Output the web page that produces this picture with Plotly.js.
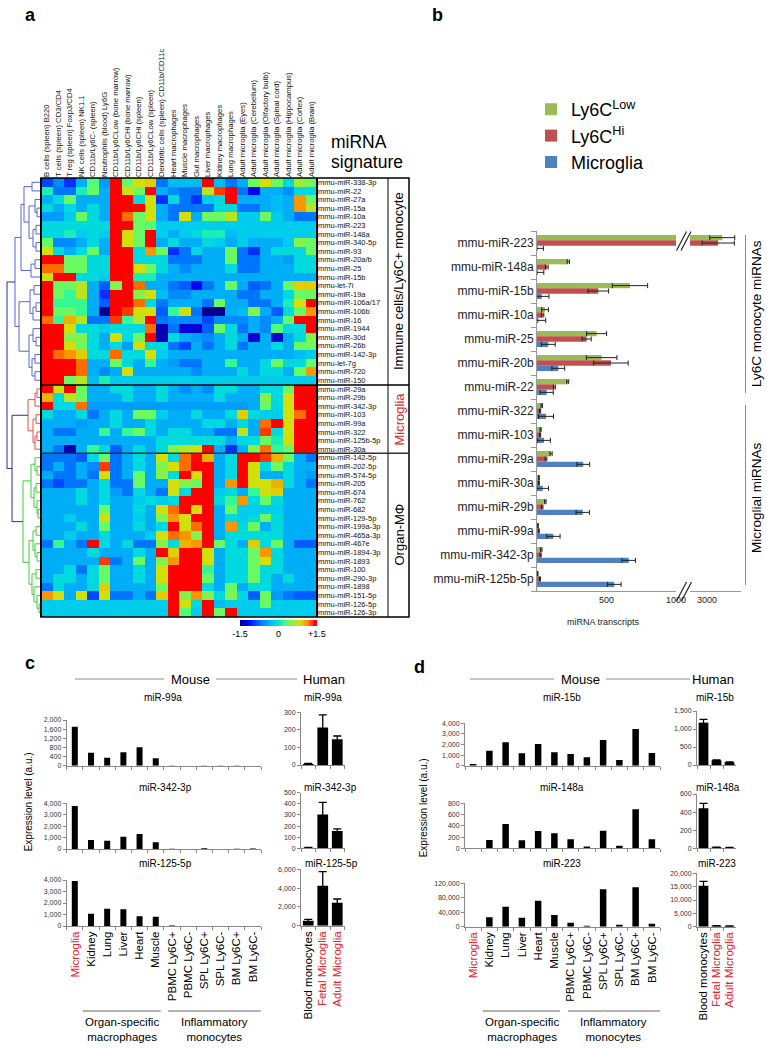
<!DOCTYPE html>
<html><head><meta charset="utf-8">
<script src="https://cdn.plot.ly/plotly-3.0.1.min.js"></script>
<style>html,body{margin:0;padding:0;background:#fff}#chart{width:767px;height:1049px}</style>
</head><body><div id="chart"></div>
<script>
// ---------------- DATA ----------------
const heatCols = ['B cells (spleen) B220','T cells (spleen) CD3/CD4','T reg (spleen) Foxp3/CD4','NK cells (spleen) NK1.1','CD11b/Ly6C- (spleen)','Neutrophils (blood) Ly6G','CD11b/Ly6CLow (bone marrow)','CD11b/Ly6CHi (bone marrow)','CD11b/Ly6CHi (spleen)','CD11b/Ly6CLow (spleen)','Dendritic cells (spleen) CD11b/CD11c','Heart macrophages','Muscle macrophages','Gut macrophages','Liver macrophages','Kidney macrophages','Lung macrophages','Adult microglia (Eyes)','Adult microglia (Cerebellum)','Adult microglia (Olfactory bulb)','Adult microglia (Spinal cord)','Adult microglia (Hippocampus)','Adult microglia (Cortex)','Adult microglia (Brain)'];

const rowsImmune = ['mmu-miR-338-3p','mmu-miR-22','mmu-miR-27a','mmu-miR-15a','mmu-miR-10a','mmu-miR-223','mmu-miR-148a','mmu-miR-340-5p','mmu-miR-93','mmu-miR-20a/b','mmu-miR-25','mmu-miR-15b','mmu-let-7i','mmu-miR-19a','mmu-miR-106a/17','mmu-miR-106b','mmu-miR-16','mmu-miR-1944','mmu-miR-30d','mmu-miR-26b','mmu-miR-142-3p','mmu-let-7g','mmu-miR-720','mmu-miR-150'];
const rowsMicroglia = ['mmu-miR-29a','mmu-miR-29b','mmu-miR-342-3p','mmu-miR-103','mmu-miR-99a','mmu-miR-322','mmu-miR-125b-5p','mmu-miR-30a'];
const rowsOrgan = ['mmu-miR-142-5p','mmu-miR-202-5p','mmu-miR-574-5p','mmu-miR-205','mmu-miR-674','mmu-miR-762','mmu-miR-682','mmu-miR-129-5p','mmu-miR-199a-3p','mmu-miR-465a-3p','mmu-miR-467e','mmu-miR-1894-3p','mmu-miR-1893','mmu-miR-100','mmu-miR-290-3p','mmu-miR-1898','mmu-miR-151-5p','mmu-miR-126-5p','mmu-miR-126-3p'];

const heatImmune = [
[-0.9,-0.6,-1.0,-0.4,0.3,-0.5,1.5,0.4,0.8,0.9,-0.7,-0.3,-0.3,-0.3,1.5,-0.3,-0.7,-0.4,0.4,0.8,0.4,-0.1,0.6,0.4],
[0.1,-0.7,-0.7,0.1,0.4,-0.4,1.5,0.8,0.4,1.5,-0.4,-0.6,-0.7,-0.7,0.7,1.3,1.5,-0.7,-1.2,-0.4,-0.4,-0.6,-0.1,-0.1],
[-0.4,-0.1,0.4,-0.4,-0.4,-0.4,1.5,1.5,-0.1,0.8,-1.0,-0.1,-0.7,-1.0,-0.2,-0.1,1.5,-0.4,-0.4,-0.4,-0.3,-0.4,1.1,0.4],
[-0.1,-0.4,-0.1,-0.4,-0.1,-0.4,1.5,1.5,1.4,0.8,-0.4,-0.7,-0.7,-0.7,-0.7,-0.1,-0.1,-0.7,-0.7,-0.4,-0.3,-0.4,1.1,0.7],
[-0.5,-0.5,-0.2,0.4,-0.1,-0.4,1.5,1.2,0.4,0.8,-0.4,-0.7,0.8,-0.4,0.4,0.4,0.7,-0.2,-0.2,0.4,-0.2,-0.4,-0.7,-0.7],
[-0.1,-0.1,-0.1,-0.1,-0.1,-0.1,1.5,1.5,0.4,0.3,-0.2,-0.2,-0.2,-0.2,-0.2,-0.2,-0.2,-0.2,-0.2,-0.2,-0.2,-0.2,-0.2,-0.2],
[-0.1,-0.1,0.1,-0.2,-0.1,-0.2,1.5,0.8,0.4,1.5,-0.2,-0.4,-0.2,-0.1,0.1,0.1,-0.3,-0.2,-0.2,-0.2,-0.2,-0.2,-0.2,-0.2],
[0.4,-0.6,-0.6,-0.4,-0.1,-0.4,1.5,0.8,0.4,1.5,-0.4,-0.1,-0.4,-0.4,-0.1,-0.2,-0.4,-0.2,-0.4,-0.4,-0.4,-0.2,0.5,0.4],
[0.8,-0.1,-0.4,-0.1,0.4,-0.4,1.5,1.5,-0.1,1.1,0.4,-1.0,-0.7,-0.1,-0.4,-0.4,0.4,-0.7,-1.0,-0.4,-0.1,-0.1,-0.1,0.4],
[1.5,1.5,0.4,0.4,-0.1,-0.1,1.5,1.5,-0.1,-0.1,-0.1,-0.7,-0.7,-0.7,-0.4,-0.4,0.4,-0.7,-0.7,-0.4,-0.4,-0.5,-0.1,-0.1],
[1.2,1.2,0.4,0.4,-0.1,-0.1,1.5,1.5,0.8,0.4,-0.1,-0.4,-0.6,-0.4,-0.4,-0.4,-0.1,-0.7,-0.7,-0.4,-0.4,-0.4,-0.1,-0.1],
[0.8,1.5,1.5,-0.1,-0.1,-0.2,1.5,1.4,0.1,0.1,-0.4,-0.4,-0.4,-0.4,-0.4,-0.4,-0.4,-0.4,-0.4,-0.4,-0.4,-0.4,-0.4,-0.4],
[1.5,0.4,0.4,0.7,-0.4,-0.8,0.5,1.5,1.2,-0.4,-0.4,-0.7,-0.8,-1.2,-0.7,-0.4,0.4,-0.4,-0.8,-0.7,-0.4,0.4,0.9,0.9],
[1.5,0.4,0.2,0.7,-0.4,-1.0,1.5,1.5,0.5,0.8,-0.3,-0.6,-0.6,-0.4,-0.4,-0.4,-0.4,-0.7,-0.7,-0.4,-0.4,-0.1,0.4,0.4],
[1.4,0.2,0.2,0.2,-0.4,-0.8,1.5,1.5,1.2,-0.1,-0.7,-0.4,-0.4,-0.4,-0.7,0.4,-0.4,-0.4,-0.7,-0.7,-0.4,0.1,0.8,1.5],
[1.5,0.4,0.4,0.2,-0.4,-1.5,1.5,1.3,0.8,0.8,-0.8,0.2,0.8,-0.7,-1.5,-1.5,-0.4,-0.3,0.5,-0.4,-0.8,-0.1,0.4,1.1],
[1.2,0.2,1.0,0.7,-0.7,-0.7,1.3,0.2,0.7,1.5,-0.7,-0.6,-0.6,-0.6,-0.9,-0.6,-0.6,-0.6,-0.4,-0.6,-0.4,0.4,1.5,1.5],
[1.5,1.5,0.8,-0.1,-0.1,-0.2,-0.1,-0.1,-0.1,1.2,-1.4,-0.7,-1.3,-1.3,-0.8,0.4,-0.1,-0.7,-0.4,-0.6,0.3,-0.1,-0.1,1.5],
[1.5,1.5,0.5,0.5,-0.1,-0.4,0.8,-0.1,0.4,1.5,-1.4,-0.1,-0.4,-0.5,-0.6,-0.4,-0.1,-0.4,-1.3,-0.4,-1.3,-0.4,-0.1,0.5],
[1.5,1.5,0.8,0.4,-0.1,-0.4,-0.1,-0.5,0.8,-0.1,-0.1,-0.7,-0.9,-0.4,-0.7,-0.4,-0.1,-0.7,-0.4,-0.4,-0.1,-0.4,0.4,0.4],
[1.5,1.2,1.1,0.9,-0.1,-0.1,1.2,-0.1,-0.1,0.8,-0.2,-0.4,-0.4,-0.4,-0.4,-0.4,-0.4,-0.4,-0.4,-0.4,-0.4,-0.4,-0.3,-0.2],
[1.5,1.5,1.5,1.2,-0.4,-0.4,0.4,-0.1,-0.4,0.2,-0.4,-0.5,-0.7,-0.7,-0.4,-0.4,0.2,-0.4,-0.4,-0.1,0.4,-0.1,-0.1,0.4],
[1.5,1.5,1.4,1.2,-0.4,-0.6,-0.4,0.8,-0.4,-0.4,-0.4,-0.4,-0.4,-0.6,-0.4,-0.4,-0.4,-0.1,-0.4,-0.1,-0.1,-0.4,0.4,1.1],
[1.5,1.5,0.4,0.7,-0.3,0.1,-0.2,-0.2,-0.2,-0.2,-0.2,-0.2,-0.2,-0.2,-0.2,-0.2,-0.2,-0.2,-0.2,-0.2,-0.2,-0.2,-0.2,-0.2]
];
const heatMicroglia = [
[1.5,0.8,1.5,0.4,-0.4,-0.4,-0.1,-0.1,-0.4,-0.4,-0.1,-0.4,-0.6,-0.4,-0.6,-0.1,-0.1,-0.4,-0.4,-0.1,-0.1,0.4,1.5,1.5],
[1.0,-0.1,0.7,0.4,-0.4,-0.4,-0.4,-0.1,-0.4,-0.4,-0.1,-0.4,-0.4,-0.4,-0.4,-0.1,-0.4,-0.4,-0.4,0.5,-0.1,0.8,1.5,1.5],
[1.5,-0.1,-0.1,1.2,-0.5,-0.5,-0.5,-0.5,-0.5,-0.5,-0.5,-0.5,-0.5,-0.5,-0.5,-0.5,-0.5,-0.5,-0.4,0.4,-0.1,0.8,1.5,1.5],
[-0.1,-0.4,-0.4,-0.1,-0.7,-0.4,-0.1,-0.4,0.4,0.4,-0.2,-0.4,-0.4,-0.1,-0.4,-0.4,-0.1,0.9,-0.1,-0.2,-0.2,0.8,1.2,1.5],
[-0.4,-0.4,-0.4,-0.5,-0.4,-0.4,-0.1,-0.4,-0.4,-0.1,-0.4,-0.4,-0.4,-0.4,-0.1,-0.1,-0.4,-0.1,-0.4,1.2,1.5,0.8,1.5,1.5],
[-0.4,-0.7,-0.7,-0.4,-0.4,0.2,-0.4,0.2,0.4,-0.1,-0.4,-0.1,-0.1,-0.4,-0.4,-0.7,-0.7,0.7,-0.4,1.3,-0.1,0.8,1.5,1.5],
[-0.4,-0.4,-0.4,-0.4,-0.4,-0.4,-0.4,-0.4,-0.4,-0.4,-0.1,-0.1,-0.1,-0.1,-0.1,-0.1,-0.4,-0.1,-0.1,0.4,0.1,0.8,1.5,1.5],
[-0.4,-0.7,-1.4,-0.4,0.2,-0.1,-0.8,-0.4,-0.1,-0.4,-0.1,0.5,0.7,0.8,1.5,-0.4,-1.0,-0.4,0.5,1.2,0.2,0.4,1.5,1.5]
];
const heatOrgan = [
[-0.7,-0.7,-0.7,-0.8,-0.1,0.4,-0.7,-0.4,-0.1,-0.4,0.8,-0.1,1.2,1.4,1.0,-0.4,-0.1,1.5,1.5,1.3,1.0,0.4,-0.4,-0.7],
[-0.7,-0.4,-0.7,-0.4,-0.6,1.3,-0.7,-0.4,-0.1,-0.4,0.5,0.8,1.2,1.5,1.5,-0.4,-0.1,1.5,0.8,-0.1,0.4,-0.1,-0.4,-0.4],
[-0.4,-0.7,-0.7,-0.4,-0.7,0.8,-0.7,-0.4,0.4,-0.4,0.5,-0.1,1.5,0.8,1.5,-0.4,-0.1,1.5,0.8,-0.4,-0.4,-0.1,-0.4,-0.5],
[-0.7,-0.9,-0.7,-0.7,-0.4,-0.1,-0.7,-0.7,0.4,-0.4,-0.4,0.8,0.5,0.4,1.5,-0.4,1.1,1.5,0.8,0.8,1.0,-0.1,-0.4,-0.7],
[-0.4,-0.4,-0.4,-0.1,-0.4,-0.1,-0.5,-0.7,-0.1,-0.4,-0.7,0.8,-0.1,1.5,1.5,-0.2,-0.1,-0.4,0.2,0.8,0.9,-0.4,-0.4,-0.4],
[-0.4,-0.4,-0.4,-0.1,-0.4,-0.1,-0.4,-0.4,-0.2,-0.1,-0.2,-0.1,1.5,1.5,1.5,-0.1,0.2,1.1,-0.1,0.4,-0.1,-0.4,-0.4,-0.4],
[-0.4,-0.4,-0.4,-0.4,-0.4,0.4,-0.4,-0.4,-0.1,-0.4,0.8,1.2,1.5,0.8,1.5,-0.4,0.4,-0.2,-0.2,-0.2,-0.2,-0.4,-0.4,-0.4],
[-0.4,-0.4,-0.2,-0.4,-0.4,0.8,-0.4,-0.4,-0.2,-0.4,0.5,1.1,0.8,1.5,1.5,-0.4,-0.1,-0.2,-0.1,0.4,-0.1,-0.4,-0.4,-0.4],
[-0.4,-0.4,-0.4,-0.1,-0.4,0.4,-0.4,-0.4,-0.1,-0.4,-0.1,1.5,0.8,1.2,1.5,-0.4,1.1,-0.1,0.4,-0.4,-0.1,-0.4,-0.4,-0.4],
[-0.4,-0.4,-0.2,-0.4,-0.4,-0.1,-0.4,-0.4,-0.4,-0.2,0.8,1.2,1.1,0.5,1.5,-0.4,-0.1,-0.1,-0.1,-0.1,-0.1,-0.4,-0.4,-0.4],
[-0.7,0.2,-0.4,-0.7,1.5,-0.1,-0.4,-0.1,-0.7,-0.7,0.5,-0.1,1.0,1.1,1.5,0.4,-0.1,-0.4,0.9,-0.1,0.4,-0.4,-0.8,-0.8],
[-0.4,-0.4,-0.4,-0.4,-0.1,-0.4,-0.4,-0.4,-0.1,-0.4,1.5,0.9,1.5,1.5,0.8,-0.4,-0.1,-0.1,0.4,1.1,-0.1,-0.4,-0.4,-0.4],
[-0.4,-0.4,-0.4,-0.4,-0.4,1.3,-0.7,-0.4,0.4,-0.4,0.5,1.1,1.5,1.5,0.8,-0.4,-0.1,-0.1,0.4,0.8,-0.1,-0.4,-0.4,-0.4],
[-0.4,-0.4,-0.1,-0.7,-0.1,0.4,-0.4,-0.4,-0.1,-0.4,0.8,1.5,1.5,1.5,0.2,-0.4,-0.1,-0.1,0.4,-0.1,-0.1,-0.4,-0.4,-0.4],
[-0.4,-0.1,-0.1,-0.4,-0.1,0.4,-0.4,-0.4,-0.1,-0.4,0.8,1.5,1.5,1.5,0.4,-0.4,-0.1,-0.1,0.4,-0.1,-0.4,-0.1,-0.4,-0.4],
[-0.7,-0.1,-0.4,-0.4,-0.1,0.9,-0.4,-0.4,-0.4,-0.4,0.4,1.5,1.5,1.5,-0.1,-0.4,0.4,-0.4,-0.1,-0.1,-0.4,-0.4,-0.4,-0.4],
[1.1,0.8,-0.4,0.8,-0.9,0.8,-0.7,-0.7,-0.4,-0.7,0.9,1.5,0.5,1.1,0.5,-0.1,0.5,-0.1,-0.8,0.4,-0.5,-0.7,-0.8,-0.8],
[-0.2,-0.2,-0.2,-0.2,-0.2,-0.2,-0.2,-0.2,-0.2,-0.2,-0.2,1.5,0.8,-0.1,1.5,-0.3,-0.2,-0.2,-0.2,0.4,-0.2,-0.2,-0.2,-0.2],
[-0.2,-0.2,-0.2,-0.2,-0.2,-0.2,-0.2,-0.2,-0.2,-0.2,-0.2,1.5,0.3,-0.2,1.5,0.4,1.5,-0.2,-0.2,-0.2,-0.2,-0.2,-0.2,-0.2]
];
const groupLabels = ['Immune cells/Ly6C+ monocyte','Microglia','Organ-M\u03A6'];

// dendrogram: [height, left, right]; leaves = row index
const dendroImmune = [26,
  [20, [17,[9,0,1],[12,[6,2,[4,3,4]],[8,[5,5,6],[5,7,8]]]], [10,[6,9,10],11]],
  [22, [11,[7,12,13],[8,[5,14,15],16]], [12,[8,17,[5,18,19]],[9,[6,20,21],[6,22,23]]]]];
const dendroMicroglia = [13, [6,[4,24,25],26], [8,[5,27,28],[6,[4,29,30],31]]];
const dendroOrgan = [18,
  [10,[6,32,[4,33,34]],[7,[5,35,36],[4,37,[3,38,39]]]],
  [12,[8,[5,40,41],[6,42,[4,43,44]]],[9,[5,45,46],[7,47,[4,48,[2,49,50]]]]]];
const dendroTop = [34, 'immune', [29, 'microglia', 'organ']];

// panel b
const bCats = ['mmu-miR-223','mmu-miR-148a','mmu-miR-15b','mmu-miR-10a','mmu-miR-25','mmu-miR-20b','mmu-miR-22','mmu-miR-322','mmu-miR-103','mmu-miR-29a','mmu-miR-30a','mmu-miR-29b','mmu-miR-99a','mmu-miR-342-3p','mmu-miR-125b-5p'];
const ly6cLow    = [3450,225,669,58,429,465,221,34,26,101,14,60,7,31,5];
const ly6cLowErr = [367,8,127,24,72,110,7,5,4,8,3,5,2,5,2];
const ly6cHi     = [3330,70,441,41,357,532,125,22,22,65,14,38,14,26,22];
const ly6cHiErr  = [474,10,74,8,33,124,7,4,4,6,3,5,2,4,3];
const microgliaB    = [5,6,34,10,81,153,70,65,50,333,41,329,118,660,556];
const microgliaBErr = [41,43,52,53,50,46,47,54,46,46,42,48,48,48,49];
const bSeriesNames = ['Ly6C<sup>Low</sup>','Ly6C<sup>Hi</sup>','Microglia'];

// panels c, d
const mouseCats = ['Microglia','Kidney','Lung','Liver','Heart','Muscle','PBMC Ly6C+','PBMC Ly6C-','SPL Ly6C+','SPL Ly6C-','BM Ly6C+','BM Ly6C-'];
const humanCats = ['Blood monocytes','Fetal Microglia','Adult Microglia'];
const redCats = ['Microglia','Fetal Microglia','Adult Microglia'];

const miR99aMouse  = [1708,570,350,584,803,321,10,3,8,5,8,3];
const miR342Mouse  = [3766,788,730,1080,1314,584,20,10,60,10,30,50];
const miR125Mouse  = [3913,1072,1507,1449,840,811,40,10,10,10,10,10];
const miR99aHuman  = [6,213,146];     const miR99aHumanErr  = [3,72,19];
const miR342Human  = [6,305,156];     const miR342HumanErr  = [2,108,18];
const miR125Human  = [533,4260,2450]; const miR125HumanErr  = [140,1490,390];

const miR15bMouse  = [157,1417,2205,1165,2047,1260,1102,787,2425,535,3465,1197];
const miR148aMouse = [2,148,433,142,308,267,160,30,314,47,693,160];
const miR223Mouse  = [0,25800,55400,24900,72000,32300,11000,2800,103400,5500,109000,8300];
const miR15bHuman  = [1176,130,74];   const miR15bHumanErr  = [92,10,10];
const miR148aHuman = [442,11,7];      const miR148aHumanErr = [55,2,2];
const miR223Human  = [15375,375,250]; const miR223HumanErr  = [1625,60,50];

// ---------------- LAYOUT HELPERS ----------------
const W = 767, H = 1049;
const F = 'Arial, "Liberation Sans", Helvetica, sans-serif';
const RED = '#e4222a';
const px = v => v / W;
const py = v => 1 - v / H;
const xd = (a, b) => [px(a), px(b)];
const yd = (top, bottom) => [py(bottom), py(top)];

const traces = [];
const layout = {
  width: W, height: H, margin: {l:0, r:0, t:0, b:0},
  paper_bgcolor: '#fff', plot_bgcolor: 'rgba(0,0,0,0)',
  font: {family: F, color: '#000'},
  hovermode: false, showlegend: true,
  barmode: 'group', bargap: 0.33, bargroupgap: 0,
  legend: {x: px(531), y: py(91), xanchor: 'left', yanchor: 'top',
           font: {size: 18, family: F}, bgcolor: 'rgba(0,0,0,0)', tracegroupgap: 0,
           itemwidth: 30, traceorder: 'normal'},
  annotations: [], shapes: []
};
const ann = (text, x, y, o = {}) => layout.annotations.push(Object.assign({
  text, x: px(x), y: py(y), xref: 'paper', yref: 'paper', showarrow: false,
  xanchor: 'center', yanchor: 'middle', font: {size: o.size || 10, color: o.color || '#000', family: F}
}, o.extra || {}));
const line = (x0, y0, x1, y1, color = '#000', width = 1) => layout.shapes.push({
  type: 'line', xref: 'paper', yref: 'paper', x0: px(x0), y0: py(y0), x1: px(x1), y1: py(y1),
  line: {color, width}
});

// ---------------- PANEL A ----------------
const heatRows = rowsImmune.concat(rowsMicroglia, rowsOrgan);
const heatValues = heatImmune.concat(heatMicroglia, heatOrgan);
const jet = [[0,'rgb(0,0,140)'],[0.1,'rgb(0,0,255)'],[0.3,'rgb(0,140,255)'],[0.42,'rgb(0,200,240)'],
  [0.5,'rgb(0,230,210)'],[0.6,'rgb(80,255,120)'],[0.78,'rgb(220,220,0)'],[0.88,'rgb(255,140,0)'],
  [0.97,'rgb(255,0,0)'],[1,'rgb(255,0,0)']];
traces.push({
  type: 'heatmap', z: heatValues, x: heatCols, y: heatRows, xaxis: 'x', yaxis: 'y',
  zmin: -1.5, zmax: 1.5, colorscale: jet, showlegend: false,
  colorbar: {orientation: 'h', x: px(278.5), xanchor: 'center', y: py(620), yanchor: 'top',
    len: 77 / W, lenmode: 'fraction', thickness: 6, thicknessmode: 'pixels', outlinewidth: 0,
    tickvals: [-1.5, 0, 1.5], ticktext: ['-1.5', '0', '+1.5'], ticks: '',
    tickfont: {size: 9, family: F}, xpad: 0, ypad: 0}
});
layout.xaxis = {domain: xd(41, 317), anchor: 'y', side: 'top', type: 'category', tickangle: -90,
  tickmode: 'array', tickvals: heatCols, ticktext: heatCols,
  ticks: '', showgrid: false, zeroline: false, showline: false, tickfont: {size: 7.7, color: '#111'}};
layout.yaxis = {domain: yd(178, 617), anchor: 'x', side: 'right', type: 'category', autorange: 'reversed',
  tickmode: 'array', tickvals: heatRows, ticktext: heatRows,
  ticks: '', showgrid: false, zeroline: false, tickfont: {size: 7.5, color: '#111'}};

// dendrogram
const clusterColor = {immune: '#5566d4', microglia: '#e2514c', organ: '#3ccf3c'};
const clusterTree = {immune: dendroImmune, microglia: dendroMicroglia, organ: dendroOrgan};
const segs = {};
function walk(node, key) {
  if (typeof node === 'number') return {y: node, h: 0};
  if (typeof node === 'string') return walk(clusterTree[node], node);
  const [h, a, b] = node;
  const A = walk(a, key), B = walk(b, key);
  if (!segs[key]) segs[key] = {x: [], y: []};
  segs[key].x.push(A.h, h, h, B.h, null);
  segs[key].y.push(A.y, A.y, B.y, B.y, null);
  return {y: (A.y + B.y) / 2, h};
}
walk(dendroTop, 'top');
const segColor = Object.assign({top: '#2c2e8e'}, clusterColor);
Object.keys(segs).forEach(k => traces.push({
  type: 'scatter', mode: 'lines', x: segs[k].x, y: segs[k].y, xaxis: 'x2', yaxis: 'y2',
  line: {color: segColor[k], width: 1}, showlegend: false, connectgaps: false
}));
layout.xaxis2 = {domain: xd(0, 41), range: [41, 0], visible: false, anchor: 'y2'};
layout.yaxis2 = {domain: yd(178, 617), range: [50.5, -0.5], visible: false, anchor: 'x2'};

// heatmap borders and group boxes
layout.shapes.push({type: 'rect', xref: 'paper', yref: 'paper', x0: px(41), x1: px(409), y0: py(617), y1: py(178),
  line: {color: '#000', width: 1.5}, fillcolor: 'rgba(0,0,0,0)'});
line(317, 178, 317, 617, '#000', 2);
line(41, 178, 41, 617, '#000', 2);
line(388, 178, 388, 617, '#000', 1);
line(41, 385, 409, 385, '#000', 1.5);
line(41, 453.3, 409, 453.3, '#333', 1.5);
ann(groupLabels[0], 398.5, 281.5, {size: 13, extra: {textangle: -90}});
ann(groupLabels[1], 398.5, 419, {size: 13, color: RED, extra: {textangle: -90}});
ann(groupLabels[2], 398.5, 535, {size: 13, extra: {textangle: -90}});
ann('miRNA', 329, 142, {size: 17.5, extra: {xanchor: 'left'}});
ann('signature', 329, 162, {size: 17.5, extra: {xanchor: 'left'}});
ann('<b>a</b>', 30, 15, {size: 18});
ann('<b>b</b>', 437, 15, {size: 18});
ann('<b>c</b>', 30, 663, {size: 18});
ann('<b>d</b>', 419, 667, {size: 18});

// ---------------- PANEL B ----------------
const bColors = ['#9bbb59', '#c0504d', '#4f81bd'];
const bVals = [ly6cLow, ly6cHi, microgliaB];
const bErrs = [ly6cLowErr, ly6cHiErr, microgliaBErr];
[['x3', 'y3', true], ['x4', 'y4', false]].forEach(([xa, ya, leg]) => {
  bVals.forEach((v, i) => traces.push({
    type: 'bar', orientation: 'h', x: v, y: bCats, xaxis: xa, yaxis: ya, name: bSeriesNames[i],
    showlegend: leg, marker: {color: bColors[i], line: {width: 0}},
    error_x: {type: 'data', array: bErrs[i], visible: true, color: '#222', thickness: 1, width: 2.5}
  }));
});
const bAxisCommon = {showgrid: false, zeroline: false, showline: true, linecolor: '#999', linewidth: 1,
  ticks: '', tickfont: {size: 9, color: '#222'}};
layout.xaxis3 = Object.assign({domain: xd(537, 676), range: [0, 1000], anchor: 'y3', tickvals: [500, 1000]}, bAxisCommon);
layout.xaxis4 = Object.assign({domain: xd(690, 741), range: [2500, 4000], anchor: 'y4', tickvals: [3000]}, bAxisCommon);
layout.yaxis3 = {domain: yd(231, 591), anchor: 'x3', type: 'category', autorange: 'reversed',
  tickmode: 'array', tickvals: bCats, ticktext: bCats,
  showgrid: false, zeroline: false, showline: true, linecolor: '#999', ticks: 'outside', tickson: 'boundaries',
  ticklen: 5, tickcolor: '#999', tickfont: {size: 12, color: '#222'}};
layout.yaxis4 = {domain: yd(231, 591), anchor: 'x4', type: 'category', autorange: 'reversed', visible: false};
// axis break marks
line(676.5, 250.5, 686.5, 231.5, '#222', 1.2);
line(681, 250.5, 691, 231.5, '#222', 1.2);
line(676.5, 601, 686.5, 582, '#222', 1.2);
line(681.5, 601, 691.5, 582, '#222', 1.2);
ann('miRNA transcripts', 603, 622, {size: 9, color: '#222'});
line(745.5, 235, 745.5, 393, '#888', 1);
line(745.5, 405, 745.5, 585, '#888', 1);
ann('Ly6C monocyte miRNAs', 756, 314, {size: 13.5, extra: {textangle: -90}});
ann('Microglial miRNAs', 756, 498, {size: 13.5, extra: {textangle: -90}});

// ---------------- PANELS C & D ----------------
const colorLabel = c => redCats.includes(c) ? '<span style="color:' + RED + '">' + c + '</span>' : c;
const small = [
  {x: [66.7, 261], y: [720, 765.7], v: miR99aMouse, cats: mouseCats, ticks: [0,400,800,1200,1600,2000], w: 0.37, t: 'miR-99a', tx: 163, ty: 697},
  {x: [66.7, 261], y: [803.3, 849], v: miR342Mouse, cats: mouseCats, ticks: [0,1000,2000,3000,4000], w: 0.37, t: 'miR-342-3p', tx: 165, ty: 787},
  {x: [66.7, 261], y: [880, 926], v: miR125Mouse, cats: mouseCats, ticks: [0,1000,2000,3000,4000], w: 0.37, t: 'miR-125-5p', tx: 165, ty: 863, lab: true},
  {x: [301, 344.5], y: [712.3, 765], v: miR99aHuman, e: miR99aHumanErr, cats: humanCats, ticks: [0,100,200,300], w: 0.74, t: 'miR-99a', tx: 323.3, ty: 697},
  {x: [301, 344.5], y: [792.7, 848.3], v: miR342Human, e: miR342HumanErr, cats: humanCats, ticks: [0,100,200,300,400,500], w: 0.74, t: 'miR-342-3p', tx: 330, ty: 787},
  {x: [301, 344.5], y: [869.3, 925.7], v: miR125Human, e: miR125HumanErr, cats: humanCats, ticks: [0,2000,4000,6000], w: 0.74, t: 'miR-125-5p', tx: 331, ty: 863, lab: true},
  {x: [465, 660], y: [723.3, 765.7], v: miR15bMouse, cats: mouseCats, ticks: [0,1000,2000,3000,4000], w: 0.4, t: 'miR-15b', tx: 561.7, ty: 697},
  {x: [465, 660], y: [803.3, 848.3], v: miR148aMouse, cats: mouseCats, ticks: [0,200,400,600,800], w: 0.4, t: 'miR-148a', tx: 561.7, ty: 787},
  {x: [465, 660], y: [883.3, 926.7], v: miR223Mouse, cats: mouseCats, ticks: [0,40000,80000,120000], w: 0.4, t: 'miR-223', tx: 561.7, ty: 863, lab: true},
  {x: [697, 736], y: [711, 765], v: miR15bHuman, e: miR15bHumanErr, cats: humanCats, ticks: [0,500,1000,1500], w: 0.75, t: 'miR-15b', tx: 715, ty: 697},
  {x: [697, 736], y: [794, 848.3], v: miR148aHuman, e: miR148aHumanErr, cats: humanCats, ticks: [0,200,400,600], w: 0.75, t: 'miR-148a', tx: 718, ty: 787},
  {x: [697, 736], y: [873.3, 926.7], v: miR223Human, e: miR223HumanErr, cats: humanCats, ticks: [0,5000,10000,15000,20000], w: 0.75, t: 'miR-223', tx: 716.7, ty: 863, lab: true}
];
small.forEach((s, i) => {
  const n = i + 5, xa = 'x' + n, ya = 'y' + n;
  const tr = {type: 'bar', x: s.cats, y: s.v, xaxis: xa, yaxis: ya, width: s.w, showlegend: false,
    marker: {color: '#000', line: {width: 0}}};
  if (s.e) tr.error_y = {type: 'data', array: s.e, visible: true, color: '#000', thickness: 1.3, width: 4};
  traces.push(tr);
  layout['xaxis' + n] = {domain: xd(s.x[0], s.x[1]), anchor: ya, type: 'category', categoryarray: s.cats,
    showgrid: false, zeroline: false, showline: true, linecolor: '#888', linewidth: 1,
    ticks: 'outside', tickson: 'boundaries', ticklen: 3, tickcolor: '#888',
    showticklabels: !!s.lab, tickangle: -90, tickmode: 'array', tickvals: s.cats, ticktext: s.cats.map(colorLabel),
    tickfont: {size: 11.5, color: '#000'}};
  layout['yaxis' + n] = {domain: yd(s.y[0], s.y[1]), anchor: xa, range: [0, s.ticks[s.ticks.length - 1]],
    tickmode: 'array', tickvals: s.ticks, tickformat: ',', showgrid: false, zeroline: false, showline: true,
    linecolor: '#888', linewidth: 1, ticks: 'outside', ticklen: 3, tickcolor: '#888',
    tickfont: {size: 7, color: '#333'}};
  ann(s.t, s.tx, s.ty, {size: 10});
});
// headers
ann('Mouse', 190, 679, {size: 13}); line(75, 679, 164, 679, '#888', 1); line(216, 679, 297, 679, '#888', 1);
ann('Human', 324, 679, {size: 13});
ann('Mouse', 580, 679, {size: 13}); line(470, 679, 554, 679, '#888', 1); line(606, 679, 690, 679, '#888', 1);
ann('Human', 713, 679, {size: 13});
ann('Expression level (a.u.)', 28.3, 802, {size: 10, extra: {textangle: -90}});
ann('Expression level (a.u.)', 423.3, 808, {size: 10, extra: {textangle: -90}});
// group brackets under category labels
line(82.7, 1011, 160.7, 1011, '#666', 1); line(168.3, 1011, 260.7, 1011, '#666', 1);
ann('Organ-specific<br>macrophages', 121.7, 1029, {size: 11.5});
ann('Inflammatory<br>monocytes', 214.3, 1029, {size: 11.5});
line(482.7, 1011, 560, 1011, '#666', 1); line(568.3, 1011, 660, 1011, '#666', 1);
ann('Organ-specific<br>macrophages', 521.7, 1029, {size: 11.5});
ann('Inflammatory<br>monocytes', 613.3, 1029, {size: 11.5});

Plotly.newPlot('chart', traces, layout, {staticPlot: true, displayModeBar: false});
</script></body></html>
